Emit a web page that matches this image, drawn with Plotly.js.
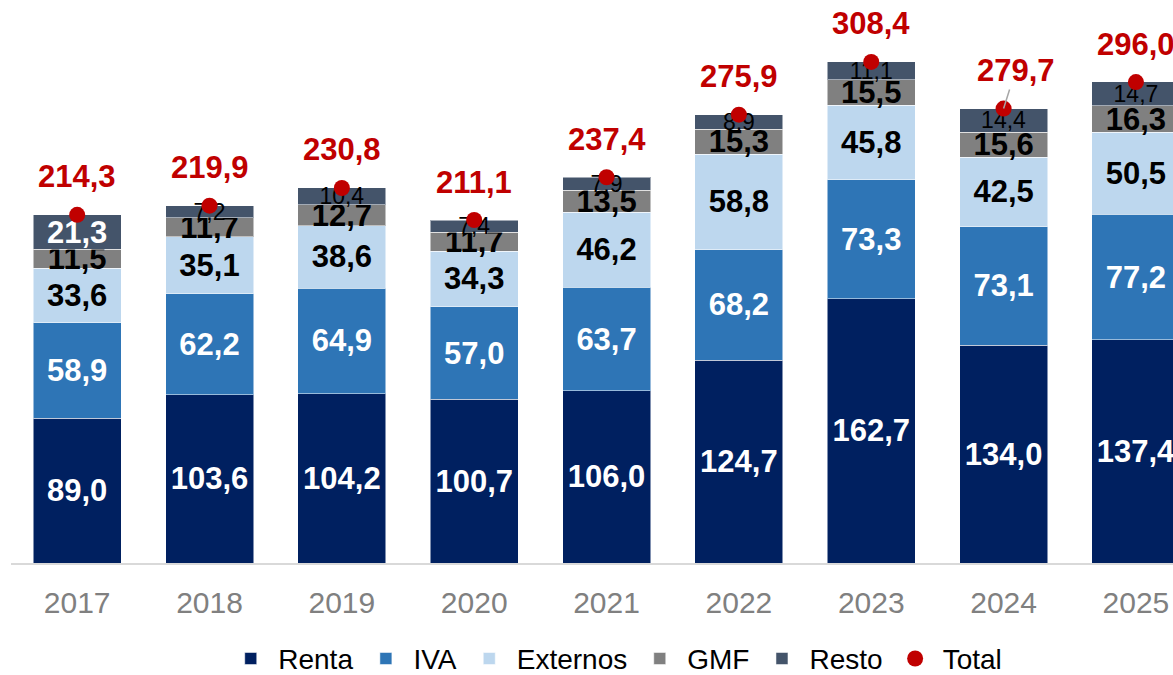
<!DOCTYPE html>
<html>
<head>
<meta charset="utf-8">
<script src="https://cdn.plot.ly/plotly-3.0.1.min.js"></script>
<style>
  html, body { margin: 0; padding: 0; background: #fff; overflow: hidden; }
  #chart { width: 1173px; height: 675px; }
</style>
</head>
<body>
<div id="chart"></div>
<script>
// years on the x axis
let years = ["2017", "2018", "2019", "2020", "2021", "2022", "2023", "2024", "2025"];

// stacked components (billions)
let renta    = [89.0, 103.6, 104.2, 100.7, 106.0, 124.7, 162.7, 134.0, 137.4];
let iva      = [58.9, 62.2, 64.9, 57.0, 63.7, 68.2, 73.3, 73.1, 77.2];
let externos = [33.6, 35.1, 38.6, 34.3, 46.2, 58.8, 45.8, 42.5, 50.5];
let gmf      = [11.5, 11.7, 12.7, 11.7, 13.5, 15.3, 15.5, 15.6, 16.3];
let resto    = [21.3, 7.2, 10.4, 7.4, 7.9, 8.9, 11.1, 14.4, 14.7];
let total    = [214.3, 219.9, 230.8, 211.1, 237.4, 275.9, 308.4, 279.7, 296.0];

let fontFam = "Liberation Sans, Arial, sans-serif";

// numbers with comma decimals, like the original
function fmt(v) {
    return v.toFixed(1).replace(".", ",");
}

function barTrace(name, values, color, txtColor) {
    return {
        x: years,
        y: values,
        name: name,
        type: "bar",
        marker: { color: color, line: { color: "rgba(255,255,255,0.5)", width: 1 } },
        text: values.map(fmt),
        textposition: "inside",
        insidetextanchor: "middle",
        textangle: 0,
        constraintext: "none",
        insidetextfont: { family: fontFam, size: 31, color: txtColor, weight: "bold" },
        hoverinfo: "skip"
    };
}

let rentaTrace = barTrace("Renta", renta, "#002060", "white");
let ivaTrace = barTrace("IVA", iva, "#2E75B6", "white");
let externosTrace = barTrace("Externos", externos, "#BDD7EE", "black");
let gmfTrace = barTrace("GMF", gmf, "#808080", "black");
let restoTrace = barTrace("Resto", resto, "#44546A", "black");

// resto: only the big 2017 slice gets the bold white label
restoTrace.insidetextfont = {
    family: fontFam,
    size: resto.map(v => v > 20 ? 31 : 23),
    color: resto.map(v => v > 20 ? "white" : "black"),
    weight: resto.map(v => v > 20 ? "bold" : "normal")
};

let totalTrace = {
    x: years,
    y: total,
    name: "Total",
    type: "scatter",
    mode: "markers",
    marker: { color: "#C00000", size: 16 },
    hoverinfo: "skip"
};

// red total labels above the dots (x as category index)
let annotations = years.map((yr, i) => {
    let leader = yr === "2024";
    return {
        x: i,
        y: total[i],
        xref: "x",
        yref: "y",
        text: "<b>" + fmt(total[i]) + "</b>",
        showarrow: true,
        ax: leader ? 12 : 0,
        ay: -38,
        arrowhead: 0,
        arrowwidth: 1.5,
        arrowcolor: leader ? "#A6A6A6" : "rgba(0,0,0,0)",
        standoff: 0,
        font: { family: fontFam, size: 31, color: "#C00000" }
    };
});

let layout = {
    width: 1173,
    height: 675,
    barmode: "stack",
    bargap: 0.335,
    showlegend: true,
    paper_bgcolor: "white",
    plot_bgcolor: "white",
    font: { family: fontFam },
    margin: { l: 11, r: 0, t: 0, b: 112, pad: 0 },
    xaxis: {
        type: "category",
        range: [-0.5, 8.28],
        automargin: false,
        showline: true,
        linecolor: "#D9D9D9",
        linewidth: 2,
        ticks: "outside",
        ticklen: 12,
        tickcolor: "rgba(0,0,0,0)",
        tickfont: { family: fontFam, size: 30, color: "#808080" },
        showgrid: false,
        zeroline: false
    },
    yaxis: {
        range: [0, 346.5],
        automargin: false,
        showticklabels: false,
        showgrid: false,
        zeroline: false,
        showline: false,
        ticks: ""
    },
    legend: {
        orientation: "h",
        x: 0.52,
        xanchor: "center",
        yref: "container",
        y: 0.024,
        yanchor: "middle",
        itemwidth: 45,
        font: { family: fontFam, size: 28, color: "black" },
        traceorder: "normal"
    },
    annotations: annotations
};

let dataTrace = [rentaTrace, ivaTrace, externosTrace, gmfTrace, restoTrace, totalTrace];

Plotly.newPlot("chart", dataTrace, layout, { displayModeBar: false, staticPlot: true });
</script>
</body>
</html>
